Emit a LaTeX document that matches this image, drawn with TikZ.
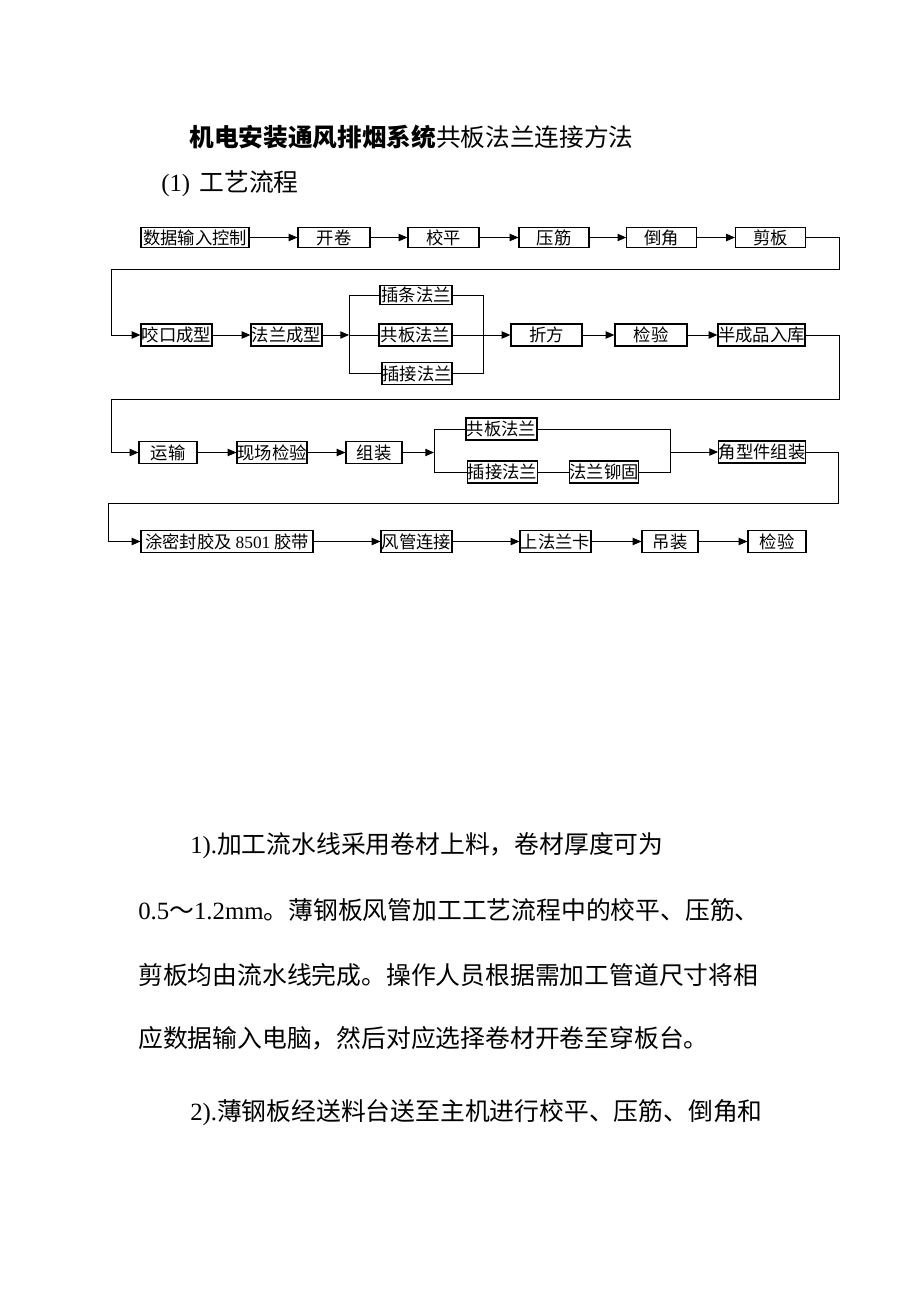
\documentclass[tikz,border=0pt]{standalone}
\usepackage{fontspec}
\setmainfont{Liberation Serif}
\newfontfamily\cjk{Noto Sans CJK SC}
\usetikzlibrary{arrows.meta}
\begin{document}
\begin{tikzpicture}[x=0.75pt,y=-0.75pt,
  box/.style={draw,line width=0.9pt,inner sep=0pt,minimum height=16.5pt,font=\cjk\fontsize{13}{15}\selectfont},
  boxA/.style={box,minimum height=14.6pt},
  link/.style={line width=0.7pt},
  flow/.style={link,-{Triangle[length=6.5pt,width=5.5pt]}},
  txt/.style={anchor=west,inner sep=0pt,font=\cjk\fontsize{18.6}{22}\selectfont}]
%width=920px
%height=1302px
\useasboundingbox (0,0) rectangle (920,1302);
% coordinates
\coordinate (xA1) at (195.0, 237.5);
\coordinate (xA2) at (334.0, 237.5);
\coordinate (xA3) at (443.5, 237.5);
\coordinate (xA4) at (554.0, 237.5);
\coordinate (xA5) at (661.5, 237.5);
\coordinate (xA6) at (770.5, 237.5);
\coordinate (xB1) at (176.5, 335.0);
\coordinate (xB2) at (286.5, 335.0);
\coordinate (xB3) at (416.0, 295.0);
\coordinate (xB4) at (415.5, 335.0);
\coordinate (xB5) at (417.0, 373.5);
\coordinate (xB6) at (546.5, 335.0);
\coordinate (xB7) at (651.0, 335.0);
\coordinate (xB8) at (761.5, 335.0);
\coordinate (xC1) at (168.0, 452.5);
\coordinate (xC2) at (272.0, 452.5);
\coordinate (xC3) at (374.0, 452.5);
\coordinate (xC4) at (501.5, 429.0);
\coordinate (xC5) at (502.5, 472.0);
\coordinate (xC6) at (604.0, 472.0);
\coordinate (xC7) at (762.0, 452.0);
\coordinate (xD1) at (227.0, 541.5);
\coordinate (xD2) at (416.5, 541.5);
\coordinate (xD3) at (555.5, 541.5);
\coordinate (xD4) at (670.0, 541.5);
\coordinate (xD5) at (777.0, 541.5);
% turning points
\coordinate (rA1) at (839, 269);
\coordinate (rA2) at (111, 269);
\coordinate (rB1) at (839, 399);
\coordinate (rB2) at (111, 399);
\coordinate (rC1) at (838, 503);
\coordinate (rC2) at (108, 503);
\coordinate (sB) at (349, 335);
\coordinate (jB) at (483, 335);
\coordinate (sC) at (434, 452.5);
\coordinate (jC) at (670, 452);
% title
\node[txt,anchor=center,font=\cjk\fontsize{18.5}{22}\selectfont] (tT) at (411.5,137) {{\bfseries 机电安装通风排烟系统}共板法兰连接方法};
\node[txt] (tS) at (161,184) {{\rmfamily (1)}\hspace{7pt}工艺流程};
% boxes
\node[boxA,minimum width=81pt]    (bA1) at (xA1) {数据输入控制};
\node[boxA,minimum width=54pt]    (bA2) at (xA2) {开卷};
\node[boxA,minimum width=53.25pt] (bA3) at (xA3) {校平};
\node[boxA,minimum width=52.5pt]  (bA4) at (xA4) {压筋};
\node[boxA,minimum width=52pt]    (bA5) at (xA5) {倒角};
\node[boxA,minimum width=52.5pt]  (bA6) at (xA6) {剪板};
\node[box,minimum width=53.25pt]  (bB1) at (xB1) {咬口成型};
\node[box,minimum width=53.25pt]  (bB2) at (xB2) {法兰成型};
\node[boxA,minimum width=54pt]    (bB3) at (xB3) {插条法兰};
\node[box,minimum width=54.75pt]  (bB4) at (xB4) {共板法兰};
\node[box,minimum width=52.5pt]   (bB5) at (xB5) {插接法兰};
\node[box,minimum width=53.25pt]  (bB6) at (xB6) {折方};
\node[box,minimum width=54pt]     (bB7) at (xB7) {检验};
\node[box,minimum width=65.25pt]  (bB8) at (xB8) {半成品入库};
\node[box,minimum width=43.5pt]   (bC1) at (xC1) {运输};
\node[box,minimum width=52.5pt]   (bC2) at (xC2) {现场检验};
\node[box,minimum width=42pt]     (bC3) at (xC3) {组装};
\node[box,minimum width=53.25pt]  (bC4) at (xC4) {共板法兰};
\node[box,minimum width=51.75pt]  (bC5) at (xC5) {插接法兰};
\node[box,minimum width=51pt]     (bC6) at (xC6) {法兰铆固};
\node[box,minimum width=64.5pt]   (bC7) at (xC7) {角型件组装};
\node[box,minimum width=129pt]    (bD1) at (xD1) {涂密封胶及 {\rmfamily 8501} 胶带};
\node[box,minimum width=53.25pt]  (bD2) at (xD2) {风管连接};
\node[box,minimum width=53.25pt]  (bD3) at (xD3) {上法兰卡};
\node[box,minimum width=42pt]     (bD4) at (xD4) {吊装};
\node[box,minimum width=43.5pt]   (bD5) at (xD5) {检验};
% connectors
\draw[flow] (bA1) -- (bA2);
\draw[flow] (bA2) -- (bA3);
\draw[flow] (bA3) -- (bA4);
\draw[flow] (bA4) -- (bA5);
\draw[flow] (bA5) -- (bA6);
\draw[flow] (bA6.east) -| (rA1) -- (rA2) |- (bB1.west);
\draw[flow] (bB1) -- (bB2);
\draw[flow] (bB2.east) -- (sB);
\draw[link] (bB3.west) -| (sB);
\draw[link] (bB5.west) -| (sB);
\draw[link] (sB) -- (bB4.west);
\draw[link] (bB3.east) -| (jB);
\draw[link] (bB5.east) -| (jB);
\draw[flow] (bB4.east) -- (bB6.west);
\draw[flow] (bB6) -- (bB7);
\draw[flow] (bB7) -- (bB8);
\draw[flow] (bB8.east) -| (rB1) -- (rB2) |- (bC1.west);
\draw[flow] (bC1) -- (bC2);
\draw[flow] (bC2) -- (bC3);
\draw[flow] (bC3.east) -- (sC);
\draw[link] (bC4.west) -| (sC);
\draw[link] (bC5.west) -| (sC);
\draw[link] (bC5) -- (bC6);
\draw[link] (bC4.east) -| (jC);
\draw[link] (bC6.east) -| (jC);
\draw[flow] (jC) -- (bC7.west);
\draw[flow] (bC7.east) -| (rC1) -- (rC2) |- (bD1.west);
\draw[flow] (bD1) -- (bD2);
\draw[flow] (bD2) -- (bD3);
\draw[flow] (bD3) -- (bD4);
\draw[flow] (bD4) -- (bD5);
% text
\node[txt] (tL1) at (190,846)  {{\rmfamily 1).}加工流水线采用卷材上料，卷材厚度可为};
\node[txt] (tL2) at (138,910)  {{\rmfamily 0.5}～{\rmfamily 1.2mm}。薄钢板风管加工工艺流程中的校平、压筋、};
\node[txt] (tL3) at (138,975)  {剪板均由流水线完成。操作人员根据需加工管道尺寸将相};
\node[txt] (tL4) at (138,1038) {应数据输入电脑，然后对应选择卷材开卷至穿板台。};
\node[txt] (tL5) at (190,1113) {{\rmfamily 2).}薄钢板经送料台送至主机进行校平、压筋、倒角和};
\end{tikzpicture}
\end{document}
